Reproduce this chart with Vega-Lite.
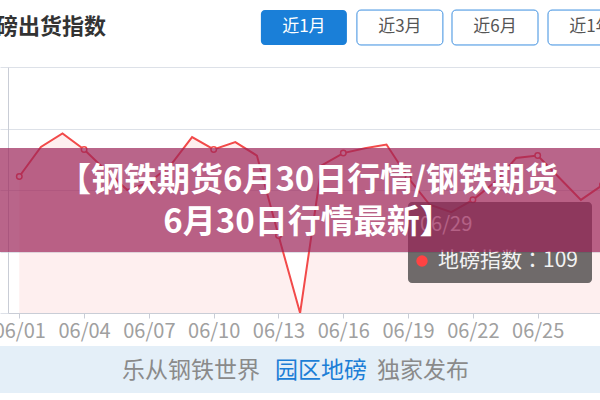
{
  "$schema": "https://vega.github.io/schema/vega-lite/v6.json",
  "width": 592,
  "height": 246,
  "autosize": {"type": "none"},
  "padding": {"left": 8, "top": 67, "right": 0, "bottom": 87},
  "background": "white",
  "config": {"view": {"stroke": null}, "font": "Noto Sans CJK SC"},
  "datasets": {
    "series": [
      {"day": 1, "value": 111}, {"day": 2, "value": 135}, {"day": 3, "value": 146},
      {"day": 4, "value": 133}, {"day": 5, "value": 116}, {"day": 6, "value": 100},
      {"day": 7, "value": 106}, {"day": 8, "value": 120}, {"day": 9, "value": 143},
      {"day": 10, "value": 133}, {"day": 11, "value": 139}, {"day": 12, "value": 128},
      {"day": 13, "value": 63}, {"day": 14, "value": 0}, {"day": 15, "value": 120},
      {"day": 16, "value": 130}, {"day": 17, "value": 134}, {"day": 18, "value": 137},
      {"day": 19, "value": 110}, {"day": 20, "value": 88}, {"day": 21, "value": 82},
      {"day": 22, "value": 92}, {"day": 23, "value": 106}, {"day": 24, "value": 126},
      {"day": 25, "value": 128}, {"day": 26, "value": 110}, {"day": 27, "value": 92},
      {"day": 28, "value": 104}, {"day": 29, "value": 109}, {"day": 30, "value": 112}
    ]
  },
  "layer": [
    {
      "data": {"name": "series"},
      "mark": {"type": "area", "color": "#f24a4a", "opacity": 0.09, "clip": true},
      "encoding": {
        "x": {
          "field": "day", "type": "quantitative",
          "scale": {"domain": [0.4769, 27.8843], "nice": false, "zero": false},
          "axis": {
            "title": null, "grid": false, "values": [1, 4, 7, 10, 13, 16, 19, 22, 25, 28],
            "labelExpr": "datum.value < 10 ? '06/0' + datum.value : '06/' + datum.value",
            "domainColor": "#c9cdd6", "tickColor": "#c9cdd6", "tickSize": 5,
            "labelColor": "#a0a0a0", "labelFontSize": 20, "labelPadding": 3,
            "labelFont": "Noto Sans CJK SC"
          }
        },
        "y": {
          "field": "value", "type": "quantitative",
          "scale": {"domain": [0, 200], "nice": false},
          "axis": {
            "title": null, "labels": false, "values": [0, 50, 100, 150, 200],
            "domainColor": "#c9cdd6", "tickColor": "#dde1e8", "tickSize": 8,
            "gridColor": "#dde1e8", "grid": true
          }
        }
      }
    },
    {
      "data": {"name": "series"},
      "mark": {"type": "line", "color": "#f24a4a", "strokeWidth": 2, "clip": true},
      "encoding": {
        "x": {"field": "day", "type": "quantitative"},
        "y": {"field": "value", "type": "quantitative"}
      }
    },
    {
      "data": {"name": "series"},
      "transform": [{"filter": "(datum.day - 1) % 3 == 0"}],
      "mark": {"type": "point", "shape": "circle", "filled": true, "fill": "white", "stroke": "#f24a4a", "strokeWidth": 1.5, "size": 30, "opacity": 1, "clip": true},
      "encoding": {
        "x": {"field": "day", "type": "quantitative"},
        "y": {"field": "value", "type": "quantitative"}
      }
    },
    {
      "data": {"values": [{"label": "磅出货指数"}]},
      "mark": {"type": "text", "align": "left", "baseline": "middle", "fontSize": 22, "fontWeight": "bold", "color": "#333333", "clip": false},
      "encoding": {
        "x": {"datum": -0.0787, "type": "quantitative"},
        "y": {"datum": 232.5, "type": "quantitative"},
        "text": {"field": "label"}
      }
    },
    {
      "data": {"values": [{"label": "近1月"}]},
      "mark": {"type": "rect", "color": "#1a7fd8", "cornerRadius": 4, "clip": false},
      "encoding": {
        "x": {"datum": 12.185, "type": "quantitative"}, "x2": {"datum": 16.167},
        "y": {"datum": 246.3, "type": "quantitative"}, "y2": {"datum": 217.9}
      }
    },
    {
      "data": {"values": [{"label": "近3月"}]},
      "mark": {"type": "rect", "fill": "white", "stroke": "#3b8ee0", "strokeWidth": 1, "cornerRadius": 4, "clip": false},
      "encoding": {
        "x": {"datum": 16.63, "type": "quantitative"}, "x2": {"datum": 20.611},
        "y": {"datum": 246.3, "type": "quantitative"}, "y2": {"datum": 217.9}
      }
    },
    {
      "data": {"values": [{"label": "近6月"}]},
      "mark": {"type": "rect", "fill": "white", "stroke": "#3b8ee0", "strokeWidth": 1, "cornerRadius": 4, "clip": false},
      "encoding": {
        "x": {"datum": 21.032, "type": "quantitative"}, "x2": {"datum": 25.014},
        "y": {"datum": 246.3, "type": "quantitative"}, "y2": {"datum": 217.9}
      }
    },
    {
      "data": {"values": [{"label": "近1年"}]},
      "mark": {"type": "rect", "fill": "white", "stroke": "#3b8ee0", "strokeWidth": 1, "cornerRadius": 4, "clip": false},
      "encoding": {
        "x": {"datum": 25.477, "type": "quantitative"}, "x2": {"datum": 29.44},
        "y": {"datum": 246.3, "type": "quantitative"}, "y2": {"datum": 217.9}
      }
    },
    {
      "data": {"values": [{"label": "近1月"}]},
      "mark": {"type": "text", "align": "center", "baseline": "middle", "fontSize": 17, "color": "white", "clip": false},
      "encoding": {
        "x": {"datum": 14.176, "type": "quantitative"},
        "y": {"datum": 232.5, "type": "quantitative"},
        "text": {"field": "label"}
      }
    },
    {
      "data": {"values": [{"label": "近3月"}]},
      "mark": {"type": "text", "align": "center", "baseline": "middle", "fontSize": 17, "color": "#555555", "clip": false},
      "encoding": {
        "x": {"datum": 18.62, "type": "quantitative"},
        "y": {"datum": 232.5, "type": "quantitative"},
        "text": {"field": "label"}
      }
    },
    {
      "data": {"values": [{"label": "近6月"}]},
      "mark": {"type": "text", "align": "center", "baseline": "middle", "fontSize": 17, "color": "#555555", "clip": false},
      "encoding": {
        "x": {"datum": 23.019, "type": "quantitative"},
        "y": {"datum": 232.5, "type": "quantitative"},
        "text": {"field": "label"}
      }
    },
    {
      "data": {"values": [{"label": "近1年"}]},
      "mark": {"type": "text", "align": "center", "baseline": "middle", "fontSize": 17, "color": "#555555", "clip": false},
      "encoding": {
        "x": {"datum": 27.463, "type": "quantitative"},
        "y": {"datum": 232.5, "type": "quantitative"},
        "text": {"field": "label"}
      }
    },
    {
      "data": {"values": [{"label": "tooltip"}]},
      "mark": {"type": "rect", "color": "#323232", "opacity": 0.7, "cornerRadius": 4, "clip": false},
      "encoding": {
        "x": {"datum": 18.995, "type": "quantitative"}, "x2": {"datum": 27.514},
        "y": {"datum": 90.24, "type": "quantitative"}, "y2": {"datum": 24.39}
      }
    },
    {
      "data": {"values": [{"label": "06/29"}]},
      "mark": {"type": "text", "align": "left", "baseline": "middle", "fontSize": 20, "color": "#f2f2f2", "clip": false},
      "encoding": {
        "x": {"datum": 19.551, "type": "quantitative"},
        "y": {"datum": 71.54, "type": "quantitative"},
        "text": {"field": "label"}
      }
    },
    {
      "data": {"values": [{"label": "地磅指数"}]},
      "mark": {"type": "point", "shape": "circle", "filled": true, "color": "#ff4343", "opacity": 1, "size": 130, "clip": false},
      "encoding": {
        "x": {"datum": 19.644, "type": "quantitative"},
        "y": {"datum": 42.28, "type": "quantitative"}
      }
    },
    {
      "data": {"values": [{"label": "地磅指数：109"}]},
      "mark": {"type": "text", "align": "left", "baseline": "middle", "fontSize": 21, "font": "Noto Sans CJK JP", "color": "#f2f2f2", "clip": false},
      "encoding": {
        "x": {"datum": 20.384, "type": "quantitative"},
        "y": {"datum": 42.28, "type": "quantitative"},
        "text": {"field": "label"}
      }
    },
    {
      "data": {"values": [{"label": "banner"}]},
      "mark": {"type": "rect", "color": "#9b2458", "opacity": 0.7, "clip": false},
      "encoding": {
        "x": {"datum": 0.1065, "type": "quantitative"}, "x2": {"datum": 27.8843},
        "y": {"datum": 134.15, "type": "quantitative"}, "y2": {"datum": 49.59}
      }
    },
    {
      "data": {"values": [{"label": "【钢铁期货6月30日行情/钢铁期货"}]},
      "mark": {"type": "text", "align": "center", "baseline": "middle", "fontSize": 33, "fontWeight": "bold", "color": "white", "clip": false},
      "encoding": {
        "x": {"datum": 14.366, "type": "quantitative"},
        "y": {"datum": 107.3, "type": "quantitative"},
        "text": {"field": "label"}
      }
    },
    {
      "data": {"values": [{"label": "6月30日行情最新】"}]},
      "mark": {"type": "text", "align": "center", "baseline": "middle", "fontSize": 33, "fontWeight": "bold", "color": "white", "clip": false},
      "encoding": {
        "x": {"datum": 14.366, "type": "quantitative"},
        "y": {"datum": 73.17, "type": "quantitative"},
        "text": {"field": "label"}
      }
    },
    {
      "data": {"values": [{"label": "footer"}]},
      "mark": {"type": "rect", "color": "#e4eff8", "clip": false},
      "encoding": {
        "x": {"datum": 0.1065, "type": "quantitative"}, "x2": {"datum": 27.8843},
        "y": {"datum": -26.83, "type": "quantitative"}, "y2": {"datum": -65.04}
      }
    },
    {
      "data": {"values": [{"label": "乐从钢铁世界"}]},
      "mark": {"type": "text", "align": "left", "baseline": "middle", "fontSize": 23, "color": "#8a8a8a", "clip": false},
      "encoding": {
        "x": {"datum": 5.755, "type": "quantitative"},
        "y": {"datum": -47.15, "type": "quantitative"},
        "text": {"field": "label"}
      }
    },
    {
      "data": {"values": [{"label": "园区地磅"}]},
      "mark": {"type": "text", "align": "left", "baseline": "middle", "fontSize": 23, "color": "#1c7ed6", "clip": false},
      "encoding": {
        "x": {"datum": 12.838, "type": "quantitative"},
        "y": {"datum": -47.15, "type": "quantitative"},
        "text": {"field": "label"}
      }
    },
    {
      "data": {"values": [{"label": "独家发布"}]},
      "mark": {"type": "text", "align": "left", "baseline": "middle", "fontSize": 23, "color": "#8a8a8a", "clip": false},
      "encoding": {
        "x": {"datum": 17.56, "type": "quantitative"},
        "y": {"datum": -47.15, "type": "quantitative"},
        "text": {"field": "label"}
      }
    }
  ]
}
